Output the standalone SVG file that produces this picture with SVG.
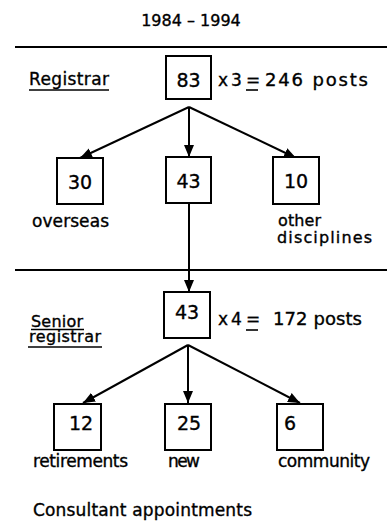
<svg xmlns="http://www.w3.org/2000/svg" width="387" height="524" viewBox="0 0 387 524">
<style>
text{font-family:"DejaVu Sans","Liberation Sans",sans-serif;fill:#000;stroke:#000;stroke-width:0.35}
.lbl{font-size:17px}
.big{font-size:18px}
.sm{font-size:16px}
.num{font-size:19px;text-anchor:middle}
.box{fill:#fff;stroke:#000;stroke-width:2}
.ln{stroke:#000;stroke-width:2;fill:none}
.ul{stroke:#000;stroke-width:1.6}
.conn{stroke:#000;stroke-width:2;fill:none;marker-end:url(#ah)}
</style>
<defs>
<marker id="ah" viewBox="0 0 12 10" refX="12" refY="5" markerWidth="12" markerHeight="10" markerUnits="userSpaceOnUse" orient="auto">
<path d="M0,0 L12,5 L0,10 Z" fill="#000"/>
</marker>
</defs>
<rect width="387" height="524" fill="#fff"/>
<text class="sm" x="191" y="26" text-anchor="middle">1984 – 1994</text>
<line class="ln" x1="15" y1="47" x2="387" y2="47"/>
<line class="ln" x1="15" y1="270" x2="387" y2="270"/>

<g id="registrar-label">
<text class="lbl" x="29" y="85" textLength="80" lengthAdjust="spacing">Registrar</text>
<line class="ul" x1="29" y1="90" x2="109" y2="90"/>
<text class="lbl" x="218" y="86">x</text>
<text class="lbl" x="231" y="86">3</text>
<text class="lbl" x="246" y="86">=</text>
<line class="ul" x1="246" y1="90" x2="258" y2="90"/>
<text class="big" x="265" y="86" textLength="103" lengthAdjust="spacing">246 posts</text>
</g>

<g id="connectors">
<line class="conn" x1="189" y1="107" x2="80" y2="158"/>
<line class="conn" x1="189" y1="107" x2="189" y2="157"/>
<line class="conn" x1="189" y1="107" x2="296" y2="158"/>
<line class="conn" x1="189" y1="204" x2="189" y2="292"/>
<line class="conn" x1="188" y1="345" x2="83" y2="403"/>
<line class="conn" x1="188" y1="345" x2="188" y2="403"/>
<line class="conn" x1="188" y1="345" x2="300" y2="403"/>
</g>

<g id="n83">
<rect class="box" x="166" y="56" width="45" height="43"/>
<text class="num" x="188.5" y="87">83</text>
</g>
<g id="n30">
<rect class="box" x="57" y="158" width="46" height="46"/>
<text class="num" x="80" y="189">30</text>
<text class="lbl" x="32" y="227" textLength="77" lengthAdjust="spacing">overseas</text>
</g>
<g id="n43a">
<rect class="box" x="166" y="157" width="45" height="46"/>
<text class="num" x="188.5" y="188">43</text>
</g>
<g id="n10">
<rect class="box" x="273" y="157" width="46" height="47"/>
<text class="num" x="296" y="188">10</text>
<text class="sm" x="278" y="226" textLength="43" lengthAdjust="spacing">other</text>
<text class="sm" x="277" y="243" textLength="95" lengthAdjust="spacing">disciplines</text>
</g>

<g id="senior-label">
<text class="sm" x="31" y="327" textLength="52" lengthAdjust="spacing">Senior</text>
<line class="ul" x1="31" y1="329.5" x2="84" y2="329.5"/>
<text class="sm" x="29" y="342" textLength="72" lengthAdjust="spacing">registrar</text>
<line class="ul" x1="28" y1="347" x2="102" y2="347"/>
<text class="lbl" x="218" y="325">x</text>
<text class="lbl" x="231" y="325">4</text>
<text class="lbl" x="246" y="325">=</text>
<line class="ul" x1="246" y1="330" x2="258" y2="330"/>
<text class="big" x="273" y="325" textLength="89" lengthAdjust="spacing">172 posts</text>
</g>

<g id="n43b">
<rect class="box" x="164" y="292" width="46" height="46"/>
<text class="num" x="187" y="319">43</text>
</g>
<g id="n12">
<rect class="box" x="54" y="404" width="47" height="46"/>
<text class="num" x="81" y="430">12</text>
<text class="lbl" x="33" y="467" textLength="95" lengthAdjust="spacing">retirements</text>
</g>
<g id="n25">
<rect class="box" x="165" y="404" width="46" height="46"/>
<text class="num" x="189" y="430">25</text>
<text class="lbl" x="168" y="467" textLength="32" lengthAdjust="spacing">new</text>
</g>
<g id="n6">
<rect class="box" x="277" y="404" width="46" height="46"/>
<text class="num" x="290" y="430">6</text>
<text class="lbl" x="278" y="467" textLength="92" lengthAdjust="spacing">community</text>
</g>

<text class="lbl" x="33" y="516" textLength="219" lengthAdjust="spacing">Consultant appointments</text>
</svg>
